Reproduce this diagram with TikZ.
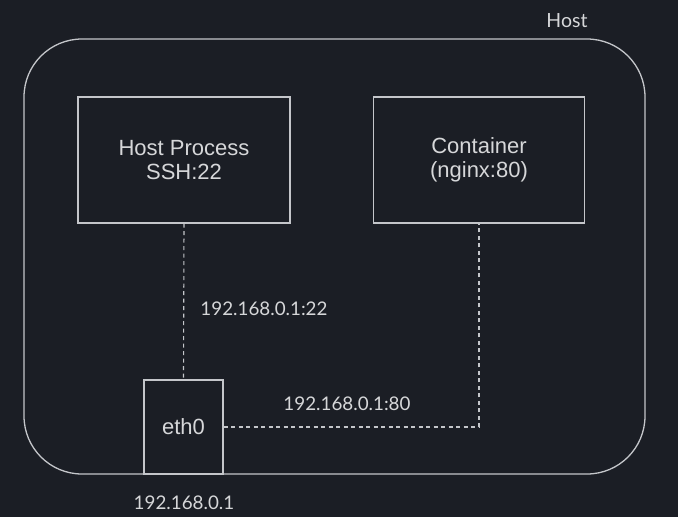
\documentclass[tikz,border=0pt]{standalone}
\usepackage{fontspec}
\setmainfont{Liberation Sans}
\newfontfamily\lblfont{Lato}
\usetikzlibrary{positioning,calc}
\definecolor{bgdark}{HTML}{1B1E25}
\definecolor{edge}{HTML}{C4C6CA}
\definecolor{ink}{HTML}{D6D7D9}
\tikzset{
  hostbox/.style={draw=edge,line width=1.3pt,rounded corners=58pt,
                  minimum width=621pt,minimum height=435pt,inner sep=0pt},
  procbox/.style={draw=edge,line width=1.2pt,inner sep=0pt,align=center,
                  font=\fontsize{22}{24.5}\selectfont,text=ink},
  link/.style={draw=edge,line width=1.1pt,dash pattern=on 4pt off 3.5pt},
  addr/.style={font=\lblfont\fontsize{18.8}{22}\selectfont,text=ink,inner sep=0pt},
}
\begin{document}
\begin{tikzpicture}[x=1pt,y=-1pt]
  % canvas
  \fill[bgdark](0,0)rectangle(678,517);
  \useasboundingbox(0,0)rectangle(678,517);
  % Host frame
  \node[hostbox](host)at(334.5,256.5){};
  \node[addr,font=\lblfont\fontsize{19.5}{22}\selectfont](hostlbl)at(567,21){Host};
  % Processes
  \node[procbox,minimum width=212pt,minimum height=126pt](proc)at(184,160)
    {Host Process\\SSH:22};
  \node[procbox,minimum width=211pt,minimum height=126pt](ctr)at(479,160)
    {Container\\(nginx:80)};
  % Interface
  \node[procbox,minimum width=79pt,minimum height=94pt](eth)at(183.5,427){eth0};
  \node[addr](ethip)at(184,503){192.168.0.1};
  % Links
  \draw[link](proc.south)--(eth.north);
  \draw[link](eth.east)--(eth.east-|ctr.south)--(ctr.south);
  \node[addr](sship)at(264,309){192.168.0.1:22};
  \node[addr](webip)at(347,404){192.168.0.1:80};
\end{tikzpicture}
\end{document}
